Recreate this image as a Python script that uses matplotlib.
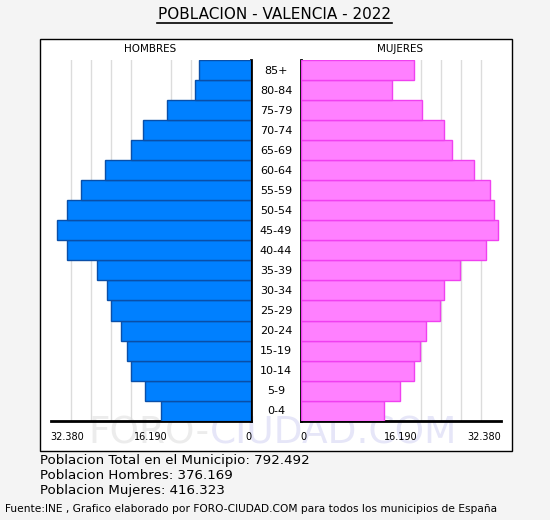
import numpy as np
import matplotlib.pyplot as plt
from matplotlib.patches import Rectangle

# Datos
edades = ['0-4', '5-9', '10-14', '15-19', '20-24', '25-29', '30-34', '35-39', '40-44',
          '45-49', '50-54', '55-59', '60-64', '65-69', '70-74', '75-79', '80-84', '85+']
hombres = [14603, 17194, 19460, 20108, 21079, 22698, 23346, 24965, 29822,
           31441, 29822, 27555, 23670, 19460, 17518, 13632, 9099, 8451]
mujeres = [13551, 16141, 18408, 19379, 20351, 22617, 23265, 25855, 30065,
           32008, 31360, 30712, 28122, 24560, 23265, 19703, 14846, 18408]
escala_max = 32380
ticks = [32380, 16190, 0]
tick_labels = ['32.380', '16.190', '0']
titulo = 'POBLACION - VALENCIA - 2022'
resumen = ['Poblacion Total en el Municipio: 792.492',
           'Poblacion Hombres: 376.169',
           'Poblacion Mujeres: 416.323']
fuente = 'Fuente:INE , Grafico elaborado por FORO-CIUDAD.COM para todos los municipios de España'

W, H = 550, 520
fig = plt.figure(figsize=(W / 100, H / 100), dpi=100, facecolor='#f4f4f4')


def fx(px):
    return px / W


def fy(py):
    return 1 - py / H


# marco blanco
marco = Rectangle((fx(39.5), fy(450.5)), fx(511.5) - fx(39.5), fy(39.5) - fy(450.5),
                  transform=fig.transFigure, facecolor='white', edgecolor='black',
                  linewidth=1, zorder=-2)
fig.patches.append(marco)

# marca de agua
fig.text(fx(210), fy(434), 'FORO-', fontsize=27, color='#ececec',
         ha='right', va='center', zorder=-1)
fig.text(fx(210), fy(434), 'CIUDAD.COM', fontsize=27, color='#e6e6f8',
         ha='left', va='center', zorder=-1)

y = np.arange(len(edades))
top, bottom = 60, 420.7
ax_h = fig.add_axes([fx(50.7), fy(bottom), fx(251) - fx(50.7), fy(top) - fy(bottom)])
ax_m = fig.add_axes([fx(300.5), fy(bottom), fx(500.7) - fx(300.5), fy(top) - fy(bottom)])

ax_h.barh(y, hombres, height=1, color='#0080ff', edgecolor='#0a4fa8', linewidth=1, zorder=3)
ax_m.barh(y, mujeres, height=1, color='#ff80ff', edgecolor='#f040f0', linewidth=1, zorder=3)

ax_h.set_xlim(escala_max, 0)
ax_m.set_xlim(0, escala_max)

for ax in (ax_h, ax_m):
    ax.set_zorder(1)
    ax.set_ylim(-0.5, len(edades) - 0.5)
    ax.patch.set_alpha(0)
    ax.set_yticks([])
    ax.set_xticks(np.arange(0, escala_max + 1, escala_max / 10), minor=True)
    ax.grid(which='minor', axis='x', color='#dcdcdc', linewidth=1, zorder=0)
    ax.set_axisbelow(True)
    ax.set_xticks(ticks)
    ax.set_xticklabels(tick_labels, fontsize=7)
    ax.tick_params(axis='x', which='both', length=0, pad=8)
    for s in ax.spines.values():
        s.set_visible(False)
    ax.spines['bottom'].set_visible(True)
    ax.spines['bottom'].set_linewidth(2)

ax_h.spines['right'].set_visible(True)
ax_h.spines['right'].set_linewidth(2)
ax_m.spines['left'].set_visible(True)
ax_m.spines['left'].set_linewidth(2)

lh = ax_h.get_xticklabels()
lh[0].set_ha('left')
lh[2].set_ha('right')
lm = ax_m.get_xticklabels()
lm[0].set_ha('right')
lm[2].set_ha('left')

# etiquetas de edad
for i, e in enumerate(edades):
    fig.text(fx(276), fy(410.5 - 20 * i), e, fontsize=8, ha='center', va='center')

fig.text(fx(150), fy(48.5), 'HOMBRES', fontsize=7.5, ha='center', va='center')
fig.text(fx(400), fy(48.5), 'MUJERES', fontsize=7.5, ha='center', va='center')

fig.text(fx(275), fy(14.5), titulo, fontsize=11, ha='center', va='center')
fig.lines.append(plt.Line2D([fx(157), fx(392)], [fy(22.5), fy(22.5)], transform=fig.transFigure,
                            color='black', linewidth=1.2))

for i, r in enumerate(resumen):
    fig.text(fx(40), fy(460.5 + 15 * i), r, fontsize=9.6, ha='left', va='center')

fig.text(fx(5), fy(509), fuente, fontsize=7.7, ha='left', va='center')

fig.savefig('out.png', dpi=100, facecolor=fig.get_facecolor())
